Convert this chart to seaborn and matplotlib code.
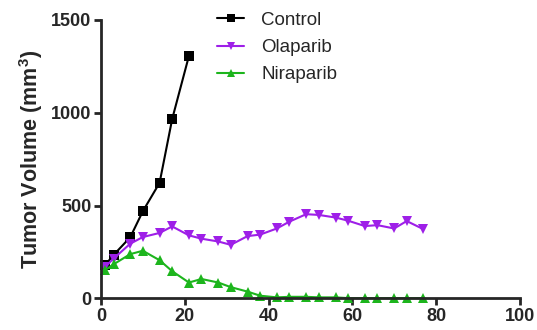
import pandas as pd
import seaborn as sns
from matplotlib import pyplot as plt

# data
days_control = [1, 3, 7, 10, 14, 17, 21]
control = [180, 234, 330, 470, 623, 966, 1306]

days_treated = [1, 3, 7, 10, 14, 17, 21, 24, 28, 31, 35, 38, 42, 45, 49, 52,
                56, 59, 63, 66, 70, 73, 77]
olaparib = [170, 215, 295, 331, 353, 388, 340, 322, 307, 289, 336, 344, 377,
            414, 454, 450, 436, 419, 390, 395, 377, 417, 373]
niraparib = [153, 184, 239, 257, 206, 147, 86, 105, 86, 61, 37, 15, 6, 9, 9,
             6, 6, 2, 2, 2, 2, 2, 2]

groups = ["Control", "Olaparib", "Niraparib"]
colors = {"Control": "#000000", "Olaparib": "#9E1FE8", "Niraparib": "#1DB51D"}
markers = {"Control": "s", "Olaparib": "v", "Niraparib": "^"}

df = pd.concat([
    pd.DataFrame({"Day": days_control, "Volume": control, "Group": "Control"}),
    pd.DataFrame({"Day": days_treated, "Volume": olaparib, "Group": "Olaparib"}),
    pd.DataFrame({"Day": days_treated, "Volume": niraparib, "Group": "Niraparib"}),
])

sns.set_style("ticks")
plt.rcParams['font.family'] = ['Liberation Sans', 'DejaVu Sans']

fig = plt.figure(figsize=(5.37, 3.30), dpi=100)
ax = fig.add_axes([0.188, 0.0955, 0.780, 0.844])

sns.lineplot(data=df, x="Day", y="Volume", hue="Group", style="Group",
             hue_order=groups, style_order=groups, palette=colors,
             markers=markers, dashes=False, linewidth=1.5, markersize=7,
             markeredgewidth=0, ax=ax, clip_on=False, sort=False)

ax.set_xlim(0, 100)
ax.set_ylim(0, 1500)
ax.set_xticks([0, 20, 40, 60, 80, 100])
ax.set_yticks([0, 500, 1000, 1500])
ax.set_xlabel("")
ax.set_ylabel("Tumor Volume (mm$^\\mathregular{3}$)", fontsize=15.5,
              fontweight="bold", labelpad=4)
for lab in ax.get_xticklabels() + ax.get_yticklabels():
    lab.set_fontweight("bold")
ax.tick_params(axis="both", labelsize=13, width=2, length=5, pad=2)
for s in ["left", "bottom"]:
    ax.spines[s].set_linewidth(2)
sns.despine(ax=ax)

leg = ax.legend(loc="upper left", bbox_to_anchor=(0.237, 1.09), frameon=False,
                fontsize=13.5, handlelength=1.45, labelspacing=0.54,
                handletextpad=0.9, markerscale=0.8)

plt.savefig("out.png", dpi=100)
